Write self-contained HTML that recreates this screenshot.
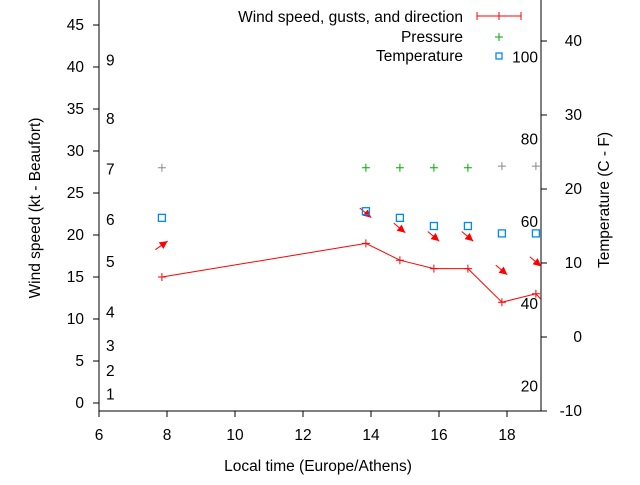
<!DOCTYPE html>
<html><head><meta charset="utf-8"><style>
body{margin:0;background:#fff}
svg text{font-family:"Liberation Sans",sans-serif;font-size:15.5px;fill:#000}
</style></head><body>
<svg width="640" height="480" viewBox="0 0 640 480">
<g id="axes"></g><g id="plot"></g>
</svg>
<script>
const hours=[7.85,13.85,14.85,15.85,16.85,17.85,18.85,19.3];
const wind=[15,19,17,16,16,12,13,11];
const gust=[18.8,22.6,20.8,19.8,19.8,15.8,16.8];
const dirDeg=[-35,40,40,40,40,40,40];
const pressure=[28,28,28,28,28,28.2,28.2];
const tempC=[16.1,17,16.1,15,15,14,14];
const xTicks=[6,8,10,12,14,16,18];
const yTicks=[0,5,10,15,20,25,30,35,40,45];
const y2Ticks=[-10,0,10,20,30,40];
const bft=[1,2,3,4,5,6,7,8,9];
const bftY=[1,3.8,6.8,10.8,16.8,21.8,27.8,33.8,40.8];
const fTicks=[20,40,60,80,100];
const L=99,R=541,T=0,B=411;
const X=h=>L+(h-6)*34;
const Y=v=>403-8.4*v;
const Y2=c=>337-7.4*c;
const NS="http://www.w3.org/2000/svg";
const ax=document.getElementById('axes'),pl=document.getElementById('plot');
function el(t,a,p,txt){const e=document.createElementNS(NS,t);for(const k in a)e.setAttribute(k,a[k]);if(txt!==undefined)e.textContent=txt;(p||ax).appendChild(e);return e;}
const clip=el('clipPath',{id:'c'});el('rect',{x:L,y:T,width:R-L,height:B-T},clip);
el('path',{d:`M${L} ${T}V${B}H${R}V${T}`,stroke:'#000',fill:'none'});
xTicks.forEach(t=>{el('line',{x1:X(t),x2:X(t),y1:B,y2:B+6,stroke:'#000'});const e=el('text',{x:X(t),y:440,'text-anchor':'middle'},ax,t);});
yTicks.forEach(t=>{el('line',{x1:L-6,x2:L,y1:Y(t),y2:Y(t),stroke:'#000'});const e=el('text',{x:L-15,y:Y(t)+5,'text-anchor':'end'},ax,t);});
y2Ticks.forEach(t=>{el('line',{x1:R,x2:R+6,y1:Y2(t),y2:Y2(t),stroke:'#000'});const e=el('text',{x:R+41,y:Y2(t)+5,'text-anchor':'end'},ax,t);});
bft.forEach((b,i)=>{const e=el('text',{x:106,y:Y(bftY[i])+5},ax,b);});
fTicks.forEach(f=>{const c=(f-32)*5/9;const e=el('text',{x:538,y:Y2(c)+5,'text-anchor':'end'},ax,f);});
let e=el('text',{x:318,y:471,'text-anchor':'middle'},ax,'Local time (Europe/Athens)');
e=el('text',{x:40,y:208,'text-anchor':'middle',transform:'rotate(-90 40 208)'},ax,'Wind speed (kt - Beaufort)');
e=el('text',{x:609,y:200,'text-anchor':'middle',transform:'rotate(-90 609 200)'},ax,'Temperature (C - F)');
const g=el('g',{'clip-path':'url(#c)'},pl);
el('polyline',{points:hours.map((h,i)=>X(h)+','+Y(wind[i])).join(' '),stroke:'red',fill:'none'},g);
hours.forEach((h,i)=>{const x=X(h),y=Y(wind[i]);const m=el('path',{d:`M${x-4} ${y}h8M${x} ${y-4}v8`,stroke:'red'},g);});
gust.forEach((v,i)=>{const x=X(hours[i]),y=Y(v);const a=dirDeg[i]*Math.PI/180;const dx=Math.cos(a),dy=Math.sin(a);
const ar=el('g',{},g);
el('line',{x1:x-dx*8,y1:y-dy*8,x2:x+dx*7,y2:y+dy*7,stroke:'red'},ar);
const hx=x+dx*7,hy=y+dy*7,px=-dy,py=dx;
el('polygon',{points:`${hx},${hy} ${hx-dx*8+px*4},${hy-dy*8+py*4} ${hx-dx*8-px*4},${hy-dy*8-py*4}`,fill:'red'},ar);});
pressure.forEach((v,i)=>{const x=X(hours[i]),y=Y(v);const m=el('path',{d:`M${x-4} ${y}h8M${x} ${y-4}v8`,stroke:i==0||i>=5?'#888':'#0a0'},g);});
tempC.forEach((c,i)=>{const x=X(hours[i]),y=Y2(c);const m=el('rect',{x:x-3.5,y:y-3.5,width:7,height:7,stroke:'#08f',fill:'none','stroke-width':1.3},g);});
const lg=el('g',{},pl);
el('text',{x:463,y:22,'text-anchor':'end'},lg,'Wind speed, gusts, and direction');
el('path',{d:'M477 16h44M477 12v8M521 12v8M499 12v8',stroke:'red'},lg);
el('text',{x:463,y:42,'text-anchor':'end'},lg,'Pressure');
el('path',{d:'M495 37h8M499 33v8',stroke:'#0a0'},lg);
el('text',{x:463,y:61,'text-anchor':'end'},lg,'Temperature');
el('rect',{x:496,y:53,width:6,height:6,stroke:'#08f',fill:'none','stroke-width':1.3},lg);
</script>
</body></html>
